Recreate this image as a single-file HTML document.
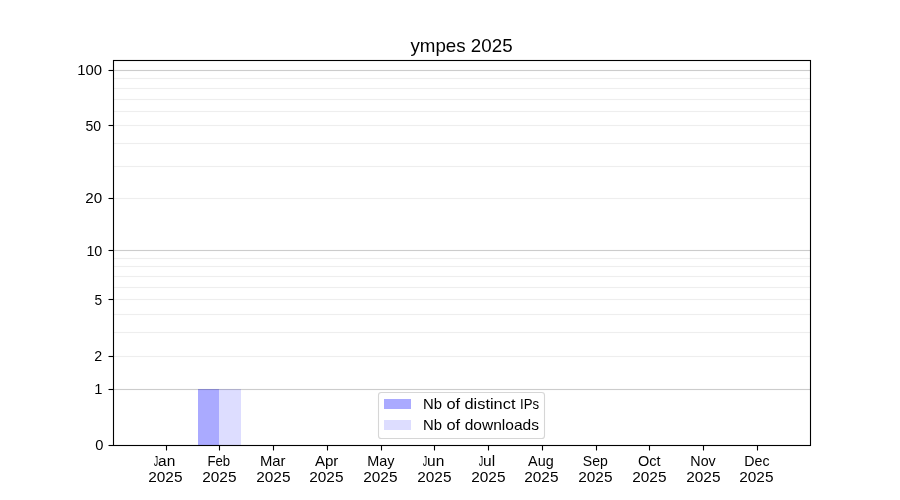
<!DOCTYPE html>
<html lang="en">
<head>
<meta charset="utf-8">
<title>ympes 2025</title>
<style>
html,body{margin:0;padding:0;background:#fff;}
body{width:900px;height:500px;overflow:hidden;}
svg{display:block;}
text{font-family:"Liberation Sans",sans-serif;fill:#000;}
</style>
</head>
<body>
<svg width="900" height="500" viewBox="0 0 900 500">
<rect x="0" y="0" width="900" height="500" fill="#ffffff"/>
<!-- bars -->
<g shape-rendering="crispEdges">
<rect x="198" y="389" width="21" height="56" fill="#aaaaff"/>
<rect x="219" y="389" width="22" height="56" fill="#ddddff"/>
</g>
<!-- grid -->
<g>
<rect x="114" y="355.93" width="696" height="1.14" fill="#000" fill-opacity="0.0667"/>
<rect x="114" y="331.93" width="696" height="1.14" fill="#000" fill-opacity="0.0667"/>
<rect x="114" y="313.93" width="696" height="1.14" fill="#000" fill-opacity="0.0667"/>
<rect x="114" y="298.93" width="696" height="1.14" fill="#000" fill-opacity="0.0667"/>
<rect x="114" y="286.93" width="696" height="1.14" fill="#000" fill-opacity="0.0667"/>
<rect x="114" y="275.93" width="696" height="1.14" fill="#000" fill-opacity="0.0667"/>
<rect x="114" y="265.93" width="696" height="1.14" fill="#000" fill-opacity="0.0667"/>
<rect x="114" y="257.93" width="696" height="1.14" fill="#000" fill-opacity="0.0667"/>
<rect x="114" y="197.93" width="696" height="1.14" fill="#000" fill-opacity="0.0667"/>
<rect x="114" y="165.93" width="696" height="1.14" fill="#000" fill-opacity="0.0667"/>
<rect x="114" y="142.93" width="696" height="1.14" fill="#000" fill-opacity="0.0667"/>
<rect x="114" y="124.93" width="696" height="1.14" fill="#000" fill-opacity="0.0667"/>
<rect x="114" y="110.93" width="696" height="1.14" fill="#000" fill-opacity="0.0667"/>
<rect x="114" y="98.93" width="696" height="1.14" fill="#000" fill-opacity="0.0667"/>
<rect x="114" y="87.93" width="696" height="1.14" fill="#000" fill-opacity="0.0667"/>
<rect x="114" y="77.93" width="696" height="1.14" fill="#000" fill-opacity="0.0667"/>
<rect x="114" y="388.93" width="696" height="1.14" fill="#000" fill-opacity="0.2"/>
<rect x="114" y="249.93" width="696" height="1.14" fill="#000" fill-opacity="0.2"/>
<rect x="114" y="69.93" width="696" height="1.14" fill="#000" fill-opacity="0.2"/>
</g>
<!-- ticks -->
<g stroke="#000" stroke-width="1.11" fill="none">
<path d="M166.5 445.5V450.5"/>
<path d="M219.5 445.5V450.5"/>
<path d="M273.5 445.5V450.5"/>
<path d="M327.5 445.5V450.5"/>
<path d="M381.5 445.5V450.5"/>
<path d="M434.5 445.5V450.5"/>
<path d="M488.5 445.5V450.5"/>
<path d="M542.5 445.5V450.5"/>
<path d="M596.5 445.5V450.5"/>
<path d="M649.5 445.5V450.5"/>
<path d="M703.5 445.5V450.5"/>
<path d="M757.5 445.5V450.5"/>
<path d="M108.5 445.5H113.5"/>
<path d="M108.5 389.5H113.5"/>
<path d="M108.5 356.5H113.5"/>
<path d="M108.5 299.5H113.5"/>
<path d="M108.5 250.5H113.5"/>
<path d="M108.5 198.5H113.5"/>
<path d="M108.5 125.5H113.5"/>
<path d="M108.5 70.5H113.5"/>
</g>
<!-- axes frame -->
<rect x="113.5" y="60.5" width="697" height="385" fill="none" stroke="#000" stroke-width="1.11" stroke-linejoin="miter"/>
<!-- legend -->
<rect x="378.5" y="392.5" width="166" height="46" rx="2.8" ry="2.8" fill="#fff" fill-opacity="0.8" stroke="#cccccc" stroke-opacity="0.8" stroke-width="1.11"/>
<g shape-rendering="crispEdges">
<rect x="384" y="399" width="27" height="10" fill="#aaaaff"/>
<rect x="384" y="420" width="27" height="10" fill="#ddddff"/>
</g>
<!-- text -->
<g opacity="0.999">
<text transform="translate(461.51 51.77) scale(1.0667 1)" font-size="17.60" text-anchor="middle">ympes 2025</text>
<text transform="translate(103.38 450.00) scale(0.9972 1)" font-size="14.72" text-anchor="end">0</text>
<text transform="translate(102.47 394.00) scale(0.9989 1)" font-size="14.72" text-anchor="end">1</text>
<text transform="translate(102.14 361.00) scale(0.9667 1)" font-size="14.72" text-anchor="end">2</text>
<text transform="translate(102.08 305.00) scale(0.9349 1)" font-size="14.72" text-anchor="end">5</text>
<text transform="translate(102.35 256.00) scale(0.9738 1)" font-size="14.72" text-anchor="end">10</text>
<text transform="translate(102.11 203.00) scale(1.0313 1)" font-size="14.72" text-anchor="end">20</text>
<text transform="translate(101.15 131.00) scale(0.9551 1)" font-size="14.72" text-anchor="end">50</text>
<text transform="translate(102.08 75.00) scale(1.0119 1)" font-size="14.72" text-anchor="end">100</text>
<text x="153.65" y="466.00" font-size="14.72"><tspan textLength="4.40" lengthAdjust="spacingAndGlyphs">J</tspan><tspan textLength="17.22" lengthAdjust="spacingAndGlyphs">an</tspan></text>
<text transform="translate(165.37 482.00) scale(1.0456 1)" font-size="14.72" text-anchor="middle">2025</text>
<text transform="translate(218.75 466.00) scale(0.8954 1)" font-size="14.72" text-anchor="middle">Feb</text>
<text transform="translate(219.37 482.00) scale(1.0456 1)" font-size="14.72" text-anchor="middle">2025</text>
<text transform="translate(272.76 466.00) scale(1.0091 1)" font-size="14.72" text-anchor="middle">Mar</text>
<text transform="translate(273.37 482.00) scale(1.0456 1)" font-size="14.72" text-anchor="middle">2025</text>
<text transform="translate(326.63 466.00) scale(1.0276 1)" font-size="14.72" text-anchor="middle">Apr</text>
<text transform="translate(326.37 482.00) scale(1.0456 1)" font-size="14.72" text-anchor="middle">2025</text>
<text transform="translate(380.90 466.00) scale(0.9799 1)" font-size="14.72" text-anchor="middle">May</text>
<text transform="translate(380.37 482.00) scale(1.0456 1)" font-size="14.72" text-anchor="middle">2025</text>
<text x="422.65" y="466.00" font-size="14.72"><tspan textLength="4.40" lengthAdjust="spacingAndGlyphs">J</tspan><tspan textLength="17.22" lengthAdjust="spacingAndGlyphs">un</tspan></text>
<text transform="translate(434.37 482.00) scale(1.0456 1)" font-size="14.72" text-anchor="middle">2025</text>
<text x="478.65" y="466.00" font-size="14.72"><tspan textLength="4.40" lengthAdjust="spacingAndGlyphs">J</tspan><tspan textLength="12.08" lengthAdjust="spacingAndGlyphs">ul</tspan></text>
<text transform="translate(488.37 482.00) scale(1.0456 1)" font-size="14.72" text-anchor="middle">2025</text>
<text transform="translate(540.88 466.00) scale(0.9776 1)" font-size="14.72" text-anchor="middle">Aug</text>
<text transform="translate(541.37 482.00) scale(1.0456 1)" font-size="14.72" text-anchor="middle">2025</text>
<text transform="translate(595.34 466.00) scale(0.9551 1)" font-size="14.72" text-anchor="middle">Sep</text>
<text transform="translate(595.37 482.00) scale(1.0456 1)" font-size="14.72" text-anchor="middle">2025</text>
<text transform="translate(649.33 466.00) scale(0.9861 1)" font-size="14.72" text-anchor="middle">Oct</text>
<text transform="translate(649.37 482.00) scale(1.0456 1)" font-size="14.72" text-anchor="middle">2025</text>
<text transform="translate(703.02 466.00) scale(0.9719 1)" font-size="14.72" text-anchor="middle">Nov</text>
<text transform="translate(703.37 482.00) scale(1.0456 1)" font-size="14.72" text-anchor="middle">2025</text>
<text transform="translate(756.86 466.00) scale(0.9655 1)" font-size="14.72" text-anchor="middle">Dec</text>
<text transform="translate(756.37 482.00) scale(1.0456 1)" font-size="14.72" text-anchor="middle">2025</text>
<text transform="translate(423.00 409.00) scale(1.0188 1)" font-size="14.60" text-anchor="start">Nb</text>
<text transform="translate(446.50 409.00) scale(1.1247 1)" font-size="14.60" text-anchor="start">of</text>
<text transform="translate(464.51 409.00) scale(1.1215 1)" font-size="14.60" text-anchor="start">distinct</text>
<text transform="translate(520.00 409.00) scale(0.9030 1)" font-size="14.60" text-anchor="start">IPs</text>
<text transform="translate(423.00 430.00) scale(1.0188 1)" font-size="14.60" text-anchor="start">Nb</text>
<text transform="translate(446.50 430.00) scale(1.1247 1)" font-size="14.60" text-anchor="start">of</text>
<text transform="translate(464.66 430.00) scale(1.0651 1)" font-size="14.60" text-anchor="start">downloads</text>
</g>
</svg>
</body>
</html>
